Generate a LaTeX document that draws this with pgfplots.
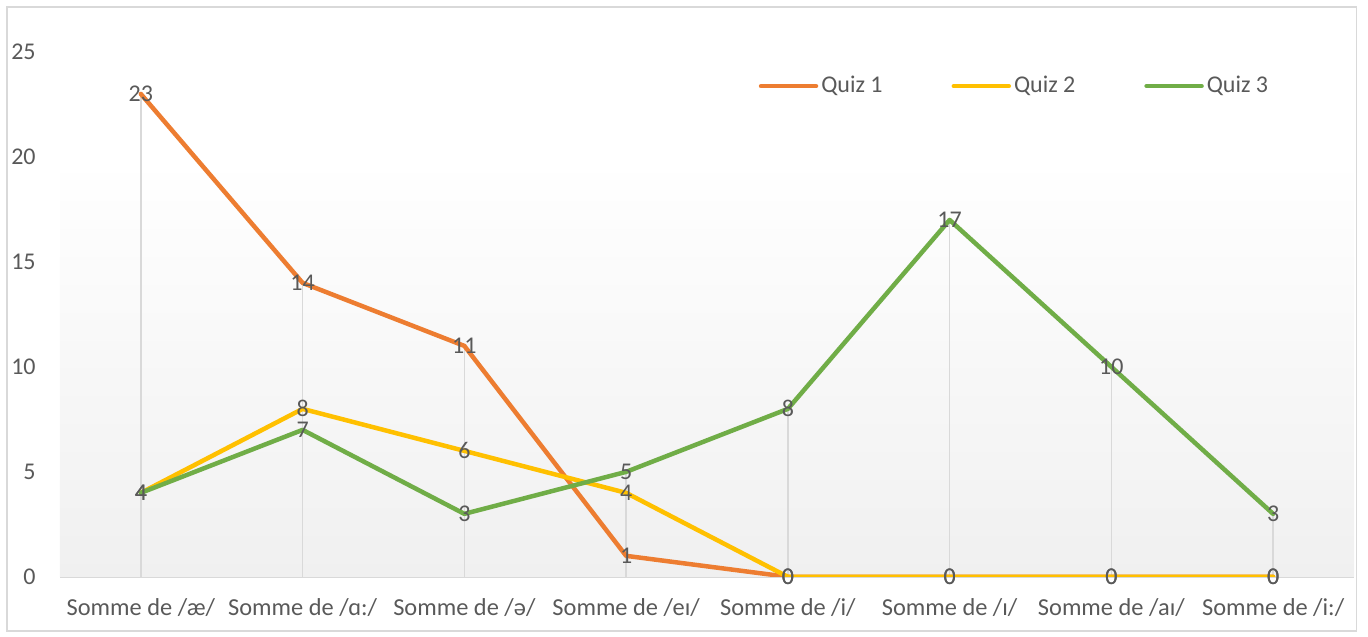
\documentclass[border=0pt]{standalone}
\usepackage{pgfplots}
\pgfplotsset{compat=1.18}
\usepackage{pgfplotstable}
\usepackage{fontspec}
\setmainfont{Carlito}

\definecolor{quizA}{HTML}{ED7D31}
\definecolor{quizB}{HTML}{FFC000}
\definecolor{quizC}{HTML}{70AD47}
\definecolor{txtgray}{HTML}{595959}
\definecolor{linegray}{HTML}{D9D9D9}
\definecolor{bgbottom}{HTML}{F0F0F0}

% category index, three quizzes, highest value (for the drop lines)
\pgfplotstableread{
x q1 q2 q3 top
0 23 4 4 23
1 14 8 7 14
2 11 6 3 11
3 1 4 5 5
4 0 0 8 8
5 0 0 17 17
6 0 0 10 10
7 0 0 3 3
}\quizdata

\begin{document}
\begin{tikzpicture}
\useasboundingbox (-30bp,-30bp) rectangle (654.2bp,288.5bp);
\draw[linegray, line width=0.75bp] (-26.5bp,-27bp) rectangle (648.5bp,285bp);
\begin{axis}[
    at={(0,0)}, anchor=south west,
    scale only axis,
    width=647.2bp, height=262.5bp,
    xmin=-0.5, xmax=7.5,
    ymin=0, ymax=25,
    axis x line*=bottom,
    axis y line*=left,
    y axis line style={draw=none},
    x axis line style={linegray, line width=1bp, -},
    major tick length=0pt,
    xtick={0,...,7},
    xticklabels={Somme de /æ/, Somme de /ɑ:/, Somme de /ə/, Somme de /eɪ/,
                 Somme de /i/, Somme de /ɪ/, Somme de /aɪ/, Somme de /i:/},
    ytick={0,5,...,25},
    /pgf/number format/assume math mode=true,
    tick label style={font=\fontsize{12bp}{14bp}\selectfont, text=txtgray},
    xticklabel style={font=\fontsize{12.2bp}{14bp}\selectfont,
                      anchor=north, inner sep=0pt, yshift=-10.5bp},
    yticklabel style={anchor=east, inner sep=0pt, xshift=-12bp},
    legend columns=-1,
    legend style={
        at={(0.738,0.935)}, anchor=center,
        draw=none, fill=none,
        font=\fontsize{12bp}{14bp}\selectfont, text=txtgray,
        nodes={inner sep=1.5bp},
        /tikz/every even column/.append style={column sep=33bp},
    },
    legend image code/.code={
        \draw[#1, line cap=round] (0bp,0bp) -- (27.5bp,0bp);
    },
    nodes near coords style={
        anchor=center, inner sep=0pt,
        font=\fontsize{12bp}{14bp}\selectfont, text=txtgray,
    },
]
\fill[top color=white, bottom color=bgbottom, draw=none]
    (axis cs:-0.5,0) rectangle (axis cs:7.5,19.9);

\addplot[ycomb, draw=linegray, line width=0.75bp, no markers, forget plot]
    table[x=x, y=top] {\quizdata};

\addplot[quizA, line width=2.25bp, line join=round, line cap=round, no markers]
    table[x=x, y=q1] {\quizdata};
\addplot[quizB, line width=2.25bp, line join=round, line cap=round, no markers]
    table[x=x, y=q2] {\quizdata};
\addplot[quizC, line width=2.25bp, line join=round, line cap=round, no markers]
    table[x=x, y=q3] {\quizdata};

\addplot[draw=none, no markers, nodes near coords, forget plot]
    table[x=x, y=q1] {\quizdata};
\addplot[draw=none, no markers, nodes near coords, forget plot]
    table[x=x, y=q2] {\quizdata};
\addplot[draw=none, no markers, nodes near coords, forget plot]
    table[x=x, y=q3] {\quizdata};

\legend{Quiz 1, Quiz 2, Quiz 3}
\end{axis}
\end{tikzpicture}
\end{document}
